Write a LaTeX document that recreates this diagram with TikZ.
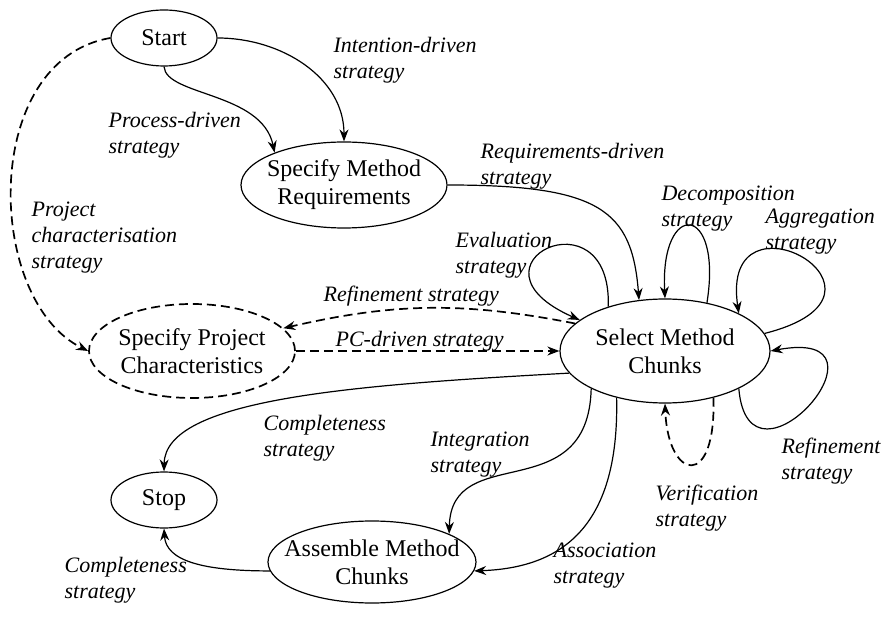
\documentclass[tikz,border=0pt]{standalone}
\usepackage{fontspec}
\setmainfont{Liberation Serif}
\usetikzlibrary{arrows.meta,shapes.geometric}
\tikzset{
  state/.style={draw,ellipse,inner sep=0pt,inner xsep=-10pt,align=center,
    font=\fontsize{12}{14}\selectfont},
  strat/.style={font=\fontsize{11}{13}\selectfont\itshape,align=left,
    anchor=north west,inner sep=0pt},
  dashline/.style={line width=0.85pt,dash pattern=on 4.5pt off 2.5pt}
}
\begin{document}
\begin{tikzpicture}[x=0.5pt,y=-0.5pt,semithick,>={Stealth[length=6pt,width=4.5pt]}]
  \useasboundingbox (0,0) rectangle (882,624);
  %% intentions
  \node[state,minimum width=53pt,minimum height=28pt] (start) at (164,38) {Start};
  \node[state,minimum width=103pt,minimum height=43pt] (smr) at (344,185) {Specify Method\\Requirements};
  \node[state,minimum width=105pt,minimum height=52pt] (smc) at (665,351) {Select Method\\Chunks};
  \node[state,dashline,minimum width=103pt,minimum height=47pt] (spc) at (192,351) {Specify Project\\Characteristics};
  \node[state,minimum width=53pt,minimum height=28pt] (stop) at (164,500) {Stop};
  \node[state,minimum width=104pt,minimum height=41pt] (amc) at (372,562) {Assemble Method\\Chunks};
  %% start to requirements
  \draw[->] (start.east) to[out=0,in=90] (smr.north);
  \node[strat] (intent) at (333,37) {Intention-driven\\strategy};
  \draw[->] (start.south) .. controls (166,96) and (262,92) .. (smr.155);
  \node[strat] (process) at (108,112) {Process-driven\\strategy};
  %% start to project characteristics
  \draw[->,dashline] (start.west) .. controls (-20,60) and (-15,300) .. (spc.west);
  \node[strat] (projchar) at (31,201) {Project\\characterisation\\strategy};
  %% requirements to chunks
  \draw[->] (smr.east) .. controls (600,185) and (632,210) .. (smc.117);
  \node[strat] (reqdriven) at (480,143) {Requirements-driven\\strategy};
  %% loops on select method chunks
  \draw[->] (smc.142) .. controls +(4,-118) and +(-125,-55) .. (smc.160);
  \node[strat] (eval) at (455,232) {Evaluation\\strategy};
  \draw[->] (smc.49) .. controls +(16,-100) and +(-5,-99) .. (smc.90);
  \node[strat] (decomp) at (661,185) {Decomposition\\strategy};
  \draw[->] (smc.10) .. controls +(158,-40) and +(-20,-133) .. (smc.27);
  \node[strat] (aggr) at (765,208) {Aggregation\\strategy};
  \draw[->] (smc.-27) .. controls +(10,118) and +(135,-25) .. (smc.0);
  \node[strat] (refine) at (781,437) {Refinement\\strategy};
  \draw[->,dashline] (smc.-44) .. controls +(3,93) and +(3,77) .. (smc.-90);
  \node[strat] (verif) at (655,484) {Verification\\strategy};
  %% chunks and project characteristics
  \draw[->,dashline] (smc.163) to[bend right=12] (spc.14);
  \node[strat] (refinepc) at (323,285) {Refinement strategy};
  \draw[->,dashline] (spc.east) -- (smc.west);
  \node[strat] (pcdriven) at (335,331) {PC-driven strategy};
  %% towards stop
  \draw[->] (smc.-167) .. controls +(-220,12) and +(1,-72) .. (stop.north);
  \node[strat] (compl) at (263,415) {Completeness\\strategy};
  \draw[->] (smc.-153) .. controls +(-3,121) and +(2,-94) .. (amc.20);
  \node[strat] (integr) at (430,431) {Integration\\strategy};
  \draw[->] (smc.-136) .. controls +(3,133) and +(84,-3) .. (amc.-5);
  \node[strat] (assoc) at (553,542) {Association\\strategy};
  \draw[->] (amc.185) .. controls +(-68,0) and +(2,32) .. (stop.south);
  \node[strat] (complamc) at (64,557) {Completeness\\strategy};
\end{tikzpicture}
\end{document}
